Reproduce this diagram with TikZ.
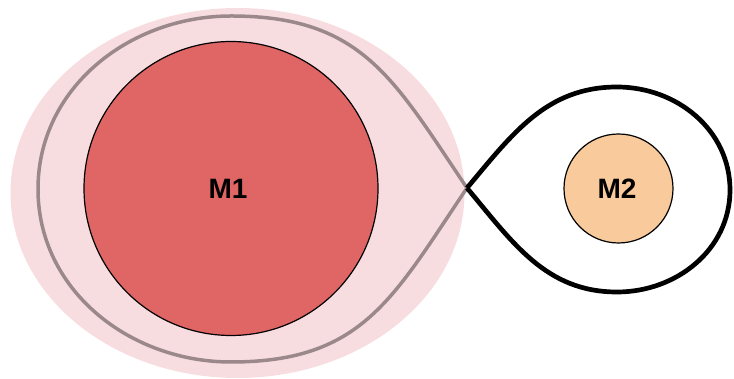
\documentclass[tikz,border=0pt]{standalone}
\usepackage{fontspec}
\setmainfont{Liberation Sans}
\definecolor{halo}{HTML}{F8DDE0}
\definecolor{primary}{HTML}{E06666}
\definecolor{secondary}{HTML}{F9CB9C}
\definecolor{lobegray}{HTML}{9B888B}
\tikzset{
  star/.style={circle, draw=black, line width=1.2pt, inner sep=0pt},
  starlabel/.style={font=\fontsize{28}{28}\selectfont\bfseries},
  lobe/.style={line join=round},
}
\begin{document}
\begin{tikzpicture}[x=1pt,y=1pt]
  \useasboundingbox (0,0) rectangle (734,379);
  % envelope around the primary
  \fill[halo] (237.5,186) ellipse [x radius=227, y radius=185];
  % crossing point of the two lobes
  \coordinate (L1) at (467,191);
  % lobe around the primary
  \draw[lobe, lobegray, line width=3.5pt] (L1) to[out=124,in=0,looseness=1.15] (231,363)
    to[out=180,in=90] (38,190) to[out=270,in=180] (231,17)
    to[out=0,in=236,looseness=1.15] (L1);
  % lobe around the secondary
  \draw[lobe, black, line width=4.7pt] (L1) to[out=50,in=180] (617,292)
    to[out=0,in=90] (730,189) to[out=270,in=0] (617,87)
    to[out=180,in=-50] (L1);
  % the two stars
  \node[star, fill=primary, minimum size=294pt] (m1) at (231,190.5) {};
  \node[starlabel] (t1) at (228,190) {M1};
  \node[star, fill=secondary, minimum size=109pt] (m2) at (618.5,190.5) {};
  \node[starlabel] (t2) at (617,190) {M2};
\end{tikzpicture}
\end{document}
